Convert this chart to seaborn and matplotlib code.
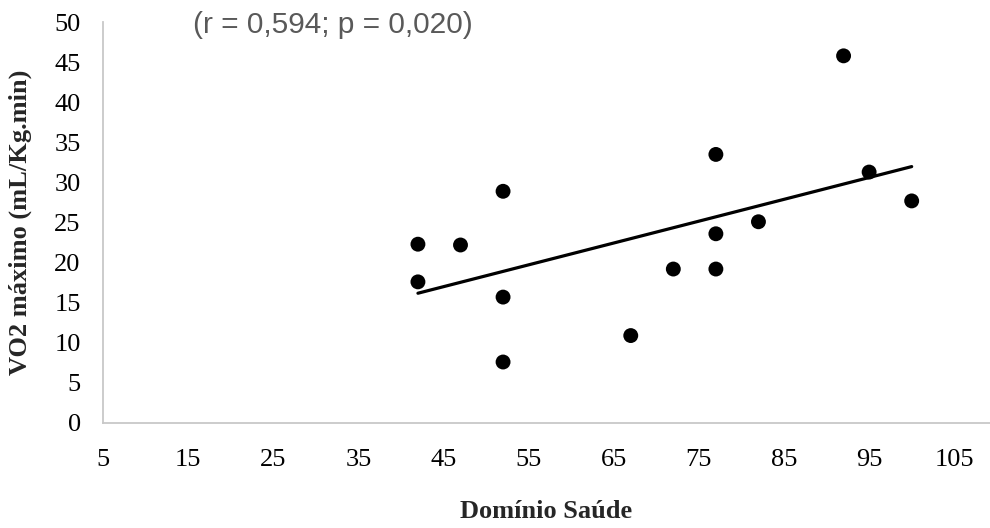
import numpy as np
import pandas as pd
import matplotlib
matplotlib.use("Agg")
import matplotlib.pyplot as plt
import seaborn as sns


# =========================
# DATA
# =========================

dominio_saude = [42, 42, 47, 52, 52, 52, 67, 72, 77, 77, 77, 82, 92, 95, 100]

vo2_max = [22.3, 17.6, 22.2, 28.9, 15.7, 7.6, 10.9, 19.2, 19.2, 23.6, 33.5, 25.1, 45.8, 31.3, 27.7]

x_ticks = [5, 15, 25, 35, 45, 55, 65, 75, 85, 95, 105]

y_ticks = [0, 5, 10, 15, 20, 25, 30, 35, 40, 45, 50]

annotation = "(r = 0,594; p = 0,020)"

df = pd.DataFrame({"Domínio Saúde": dominio_saude, "VO2 máximo": vo2_max})


# =========================
# STYLE
# =========================

sns.set_style("white")

plt.rcParams["font.family"] = ["Liberation Serif", "DejaVu Serif"]


# =========================
# PLOT
# =========================

fig = plt.figure(figsize=(9.9, 5.28), dpi=100)

ax = fig.add_axes([0.104, 0.199, 0.896, 0.759])

sns.regplot(

    data=df,

    x="Domínio Saúde",

    y="VO2 máximo",

    ci=None,

    ax=ax,

    scatter_kws=dict(s=115, color="black", edgecolor="none", alpha=1, zorder=3),

    line_kws=dict(color="black", lw=2.3, zorder=2)
)

ax.set_xlim(5, 109.2)

ax.set_ylim(0, 50)

ax.set_xticks(x_ticks)

ax.set_yticks(y_ticks)

ax.tick_params(axis="both", length=0, labelsize=19, colors="black")

ax.tick_params(axis="x", pad=19)

ax.tick_params(axis="y", pad=16)

for side in ["top", "right"]:
    ax.spines[side].set_visible(False)

for side in ["left", "bottom"]:
    ax.spines[side].set_color("#c8c8c8")
    ax.spines[side].set_linewidth(1.3)

ax.set_xlabel("Domínio Saúde", fontsize=19, fontweight="bold", labelpad=21)

ax.set_ylabel("VO2 máximo (mL/Kg.min)", fontsize=19, fontweight="bold", labelpad=16)

fig.text(

    0.195,

    0.952,

    annotation,

    fontsize=21.5,

    color="#595959",

    family=["Liberation Sans", "DejaVu Sans"],

    ha="left",

    va="center"
)

fig.savefig("out.png", dpi=100)
